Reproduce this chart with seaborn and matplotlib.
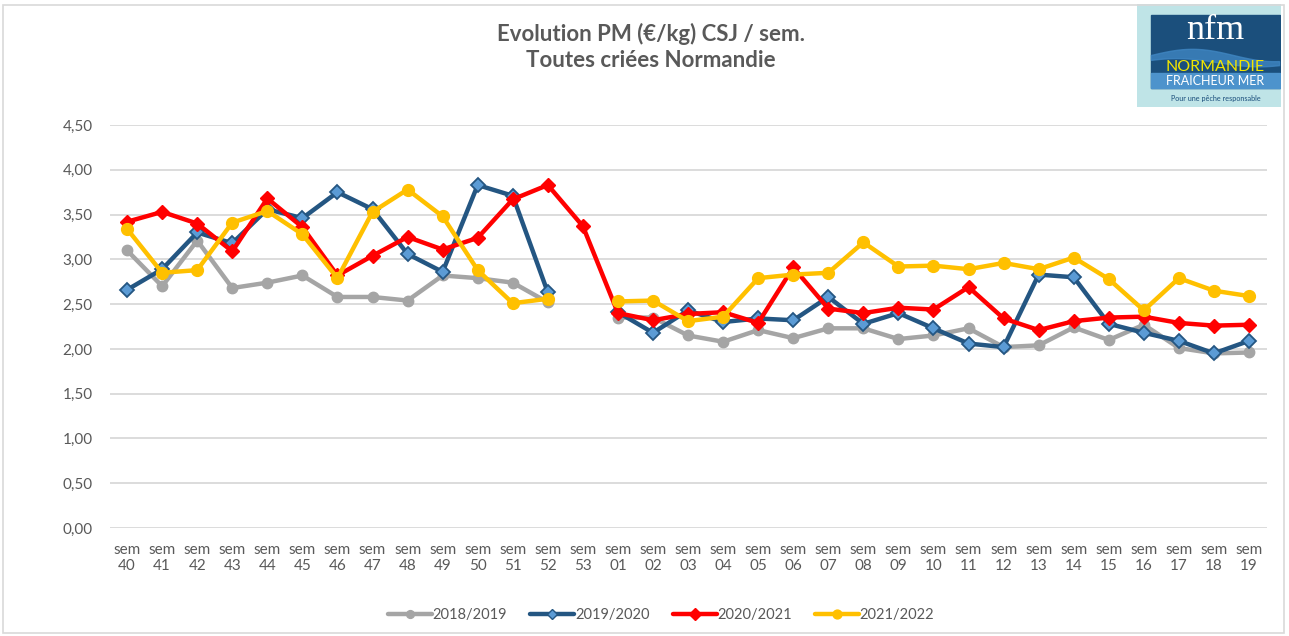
import numpy as np
import pandas as pd
import matplotlib
matplotlib.use("Agg")
import matplotlib.pyplot as plt
from matplotlib.patches import Rectangle, Polygon
from matplotlib.lines import Line2D
import seaborn as sns

weeks = ["40", "41", "42", "43", "44", "45", "46", "47", "48", "49", "50", "51", "52", "53",
         "01", "02", "03", "04", "05", "06", "07", "08", "09", "10", "11", "12", "13", "14",
         "15", "16", "17", "18", "19"]
tick_labels = ["sem\n" + w for w in weeks]
seasons = ["2018/2019", "2019/2020", "2020/2021", "2021/2022"]

nan = np.nan
s2018 = [3.10, 2.70, 3.21, 2.68, 2.74, 2.82, 2.58, 2.58, 2.54, 2.82, 2.79, 2.74, 2.52, nan,
         2.35, 2.35, 2.15, 2.08, 2.21, 2.12, 2.23, 2.23, 2.11, 2.15, 2.23, 2.02, 2.04, 2.24,
         2.10, 2.27, 2.01, 1.95, 1.96]
s2019 = [2.66, 2.89, 3.30, 3.18, 3.56, 3.46, 3.75, 3.56, 3.06, 2.86, 3.83, 3.71, 2.63, nan,
         2.41, 2.18, 2.43, 2.30, 2.34, 2.32, 2.58, 2.28, 2.40, 2.23, 2.06, 2.02, 2.83, 2.80,
         2.28, 2.18, 2.09, 1.95, 2.09]
s2020 = [3.42, 3.53, 3.40, 3.09, 3.68, 3.36, 2.82, 3.04, 3.25, 3.11, 3.24, 3.67, 3.83, 3.37,
         2.40, 2.32, 2.39, 2.41, 2.29, 2.91, 2.45, 2.40, 2.46, 2.44, 2.69, 2.34, 2.21, 2.31,
         2.35, 2.36, 2.29, 2.26, 2.27]
s2021 = [3.34, 2.85, 2.88, 3.41, 3.54, 3.28, 2.79, 3.53, 3.78, 3.48, 2.88, 2.51, 2.56, nan,
         2.53, 2.54, 2.31, 2.36, 2.79, 2.83, 2.85, 3.19, 2.92, 2.93, 2.89, 2.96, 2.89, 3.02,
         2.78, 2.43, 2.79, 2.65, 2.59]
yticks = [0.0, 0.5, 1.0, 1.5, 2.0, 2.5, 3.0, 3.5, 4.0, 4.5]

styles = {
    "2018/2019": dict(color="#a5a5a5", marker="o", mfc="#a5a5a5", mec="#a5a5a5", ms=7.5, mew=1),
    "2019/2020": dict(color="#245682", marker="D", mfc="#5b9bd5", mec="#245682", ms=7, mew=1.3),
    "2020/2021": dict(color="#ff0000", marker="D", mfc="#ff0000", mec="#ff0000", ms=7.5, mew=1),
    "2021/2022": dict(color="#ffc000", marker="o", mfc="#ffc000", mec="#ffc000", ms=8.5, mew=1),
}

sns.set_theme(style="white")
plt.rcParams["font.family"] = ["Lato", "DejaVu Sans"]
txt = "#595959"

fig = plt.figure(figsize=(12.89, 6.36), dpi=100)
ax = fig.add_axes([0.085, 0.1698, 0.8976, 0.6336])

series = {"2018/2019": s2018, "2019/2020": s2019, "2020/2021": s2020, "2021/2022": s2021}
pos = np.arange(len(weeks))
for name in seasons:
    vals = np.array(series[name], dtype=float)
    df = pd.DataFrame({"pos": pos, "value": vals})
    # split into contiguous segments (gaps where values are missing)
    df["seg"] = np.cumsum(np.isnan(vals))
    df = df.dropna()
    st = styles[name]
    for _, sub in df.groupby("seg"):
        sns.lineplot(data=sub, x="pos", y="value", ax=ax, color=st["color"], lw=3.2,
                     marker=st["marker"], markerfacecolor=st["mfc"], markeredgecolor=st["mec"],
                     markersize=st["ms"], markeredgewidth=st["mew"], estimator=None,
                     sort=False, legend=False, zorder=3)

ax.set_xlim(-0.5, len(weeks) - 0.5)
ax.set_ylim(0, 4.5)
ax.set_yticks(yticks)
ax.set_yticklabels([f"{v:.2f}".replace(".", ",") for v in yticks], color=txt, fontsize=11)
ax.set_xticks(pos)
ax.set_xticklabels(tick_labels, color=txt, fontsize=11, linespacing=1.2)
ax.tick_params(axis="y", length=0, pad=12)
ax.tick_params(axis="x", length=0, pad=11)
ax.set_xlabel("")
ax.set_ylabel("")
ax.grid(axis="y", color="#d9d9d9", lw=1.3)
ax.grid(axis="x", visible=False)
for sp in ax.spines.values():
    sp.set_visible(False)
ax.set_axisbelow(True)

fig.text(0.505, 0.947, "Evolution PM (€/kg) CSJ / sem.", ha="center", va="center",
         fontsize=16, fontweight="bold", color=txt)
fig.text(0.505, 0.905, "Toutes criées Normandie", ha="center", va="center",
         fontsize=16, fontweight="bold", color=txt)

handles = [Line2D([0], [0], color=styles[s]["color"], lw=3.2, marker=styles[s]["marker"],
                  markerfacecolor=styles[s]["mfc"], markeredgecolor=styles[s]["mec"],
                  markersize=styles[s]["ms"] * 0.75) for s in seasons]
leg = fig.legend(handles, seasons, loc="center", bbox_to_anchor=(0.513, 0.033), ncol=4,
                 frameon=False, fontsize=10.5, handlelength=3.0, columnspacing=1.6,
                 handletextpad=0.05)
for t in leg.get_texts():
    t.set_color(txt)

# frame border
fig.patches.append(Rectangle((0.002, 0.004), 0.994, 0.988, transform=fig.transFigure,
                             fill=False, edgecolor="#d9d9d9", lw=1.2, zorder=0))

# logo
lax = fig.add_axes([1137 / 1289, (636 - 107) / 636, 144 / 1289, 103 / 636])
lax.set_xlim(0, 1)
lax.set_ylim(0, 1)
lax.axis("off")
lax.add_patch(Rectangle((0, 0), 1, 1, color="#bfe4e7"))
lax.add_patch(Rectangle((0.10, 0.18), 0.89, 0.71, color="#1b4f7c"))
lax.add_patch(Rectangle((0.10, 0.18), 0.89, 0.15, color="#4d93cc"))
xs = np.linspace(0.10, 0.99, 50)
top = 0.50 + 0.06 * np.sin((xs - 0.10) * 5.5)
bot = 0.43 + 0.04 * np.sin((xs - 0.10) * 5.5 + 0.6)
poly = np.vstack([np.column_stack([xs, top]), np.column_stack([xs[::-1], bot[::-1]])])
lax.add_patch(Polygon(poly, closed=True, color="#3f86c2", alpha=0.8))
lax.text(0.54, 0.74, "nfm", ha="center", va="center", color="white", fontsize=26,
         family="Liberation Serif")
lax.text(0.545, 0.39, "NORMANDIE", ha="center", va="center", color="#f3e600", fontsize=11.5)
lax.text(0.545, 0.255, "FRAICHEUR MER", ha="center", va="center", color="white", fontsize=9)
lax.text(0.545, 0.085, "Pour une pêche responsable", ha="center", va="center",
         color="#1b4f7c", fontsize=5.2)

fig.savefig("out.png", dpi=100, facecolor="white")
